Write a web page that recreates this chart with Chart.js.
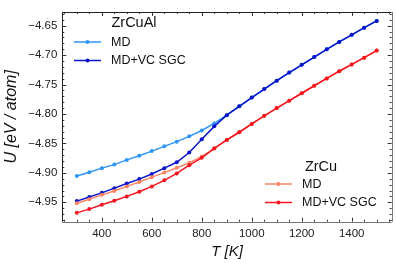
<!DOCTYPE html>
<html>
<head>
<meta charset="utf-8">
<script src="https://cdn.jsdelivr.net/npm/chart.js@4"></script>
<style>
  html, body { margin: 0; padding: 0; background: #fff; }
  #wrap { width: 397px; height: 263px; }
</style>
</head>
<body>
<div id="wrap"><canvas id="chart"></canvas></div>
<script>
var temps = [300, 350, 400, 450, 500, 550, 600, 650, 700, 750, 800, 850, 900,
  950, 1000, 1050, 1100, 1150, 1200, 1250, 1300, 1350, 1400, 1450, 1500];

var zrcualMD = [-4.9055, -4.899, -4.892, -4.886, -4.878, -4.871, -4.863, -4.855, -4.847, -4.838, -4.828, -4.816, -4.802,
  -4.787, -4.772, -4.7576, -4.7433, -4.7296, -4.7165, -4.7033, -4.690, -4.6775, -4.6655, -4.6533, -4.6418];
var zrcualSGC = [-4.948, -4.941, -4.934, -4.926, -4.918, -4.9106, -4.902, -4.892, -4.882, -4.8655, -4.843, -4.821, -4.802,
  -4.787, -4.772, -4.7576, -4.7433, -4.7296, -4.7165, -4.7033, -4.690, -4.6775, -4.6655, -4.6533, -4.6418];
var zrcuMD = [-4.9517, -4.945, -4.9374, -4.9308, -4.923, -4.9155, -4.9073, -4.8996, -4.8913, -4.883, -4.872, -4.859, -4.844,
  -4.831, -4.8168, -4.803, -4.790, -4.7773, -4.7647, -4.752, -4.7395, -4.7273, -4.7158, -4.7043, -4.6923];
var zrcuSGC = [-4.968, -4.9616, -4.9543, -4.9473, -4.940, -4.932, -4.923, -4.9127, -4.901, -4.887, -4.8744, -4.8584, -4.844,
  -4.831, -4.8168, -4.803, -4.790, -4.7773, -4.7647, -4.752, -4.7395, -4.7273, -4.7158, -4.7043, -4.6923];

var xTicks = [400, 600, 800, 1000, 1200, 1400];
var yTicks = [-4.95, -4.90, -4.85, -4.80, -4.75, -4.70, -4.65];

var lightBlue = '#2f95f5';
var darkBlue = '#0a14c8';
var salmon = '#fa8466';
var red = '#f5141e';

function pts(ys) {
  return temps.map(function (t, i) { return { x: t, y: ys[i] }; });
}

function series(label, ys, color, order) {
  return {
    label: label,
    data: pts(ys),
    borderColor: color,
    backgroundColor: color,
    borderWidth: 1.5,
    pointRadius: 2,
    pointBorderWidth: 0,
    pointHoverRadius: 2,
    order: order
  };
}

var fontFamily = '"Liberation Sans", Arial, sans-serif';

// inward ticks on all four sides, plus the frame and axis titles
var frame = {
  id: 'frame',
  afterDraw: function (chart) {
    var ctx = chart.ctx;
    var a = chart.chartArea;
    var xs = chart.scales.x;
    var ys = chart.scales.y;
    ctx.save();
    ctx.strokeStyle = '#333';
    ctx.lineWidth = 1;
    var v, px;
    for (v = 250; v <= 1550; v += 50) {
      px = Math.round(xs.getPixelForValue(v)) + 0.5;
      var len = (v % 200 === 0) ? 4 : 2;
      ctx.beginPath();
      ctx.moveTo(px, a.bottom); ctx.lineTo(px, a.bottom - len);
      ctx.moveTo(px, a.top); ctx.lineTo(px, a.top + len);
      ctx.stroke();
    }
    for (var k = -498; k <= -463; k++) {
      v = k / 100;
      px = Math.round(ys.getPixelForValue(v)) + 0.5;
      var l2 = (k % 5 === 0) ? 4 : 2;
      ctx.beginPath();
      ctx.moveTo(a.left, px); ctx.lineTo(a.left + l2, px);
      ctx.moveTo(a.right, px); ctx.lineTo(a.right - l2, px);
      ctx.stroke();
    }
    ctx.strokeStyle = '#222';
    ctx.beginPath();
    ctx.moveTo(Math.round(a.left) + 0.5, a.top);
    ctx.lineTo(Math.round(a.left) + 0.5, a.bottom);
    ctx.moveTo(a.left, Math.round(a.top) + 0.5);
    ctx.lineTo(a.right, Math.round(a.top) + 0.5);
    ctx.stroke();
    ctx.strokeStyle = '#777';
    ctx.beginPath();
    ctx.moveTo(a.left, Math.round(a.bottom) + 0.5);
    ctx.lineTo(a.right, Math.round(a.bottom) + 0.5);
    ctx.moveTo(Math.round(a.right) + 0.5, a.top);
    ctx.lineTo(Math.round(a.right) + 0.5, a.bottom);
    ctx.stroke();

    ctx.fillStyle = '#111';
    ctx.textAlign = 'center';
    ctx.textBaseline = 'middle';
    ctx.font = 'italic 15px ' + fontFamily;
    ctx.fillText('T [K]', (a.left + a.right) / 2, 252);
    ctx.translate(12, (a.top + a.bottom) / 2);
    ctx.rotate(-Math.PI / 2);
    ctx.font = 'italic 16px ' + fontFamily;
    ctx.fillText('U [eV / atom]', 0, 0);
    ctx.restore();
  }
};

// two titled legends, drawn from the datasets
var legends = {
  id: 'legends',
  afterDraw: function (chart) {
    var ctx = chart.ctx;
    var ds = chart.data.datasets;
    var groups = [
      { title: 'ZrCuAl', tx: 134, ty: 23, x0: 74, items: [ds[0], ds[1]], y0: 42 },
      { title: 'ZrCu', tx: 321, ty: 167, x0: 265, items: [ds[2], ds[3]], y0: 184 }
    ];
    ctx.save();
    groups.forEach(function (g) {
      ctx.fillStyle = '#111';
      ctx.font = '14.5px ' + fontFamily;
      ctx.textAlign = 'center';
      ctx.textBaseline = 'middle';
      ctx.fillText(g.title, g.tx, g.ty);
      g.items.forEach(function (d, i) {
        var y = g.y0 + i * 18.5;
        ctx.strokeStyle = d.borderColor;
        ctx.lineWidth = 1.5;
        ctx.beginPath();
        ctx.moveTo(g.x0, y); ctx.lineTo(g.x0 + 27, y);
        ctx.stroke();
        ctx.fillStyle = d.borderColor;
        ctx.beginPath();
        ctx.arc(g.x0 + 13.5, y, 2, 0, Math.PI * 2);
        ctx.fill();
        ctx.fillStyle = '#111';
        ctx.font = '12.5px ' + fontFamily;
        ctx.textAlign = 'left';
        ctx.fillText(d.label, g.x0 + 37, y + 0.5);
      });
    });
    ctx.restore();
  }
};

new Chart(document.getElementById('chart').getContext('2d'), {
  type: 'line',
  data: {
    datasets: [
      series('MD', zrcualMD, lightBlue, 4),
      series('MD+VC SGC', zrcualSGC, darkBlue, 3),
      series('MD', zrcuMD, salmon, 2),
      series('MD+VC SGC', zrcuSGC, red, 1)
    ]
  },
  options: {
    responsive: true,
    maintainAspectRatio: false,
    animation: false,
    events: [],
    layout: { padding: { top: 5, right: 5.3, left: 0, bottom: 0 } },
    plugins: { legend: { display: false }, tooltip: { enabled: false } },
    scales: {
      x: {
        type: 'linear',
        min: 242,
        max: 1560,
        grid: { display: false, drawTicks: false },
        border: { display: false },
        afterBuildTicks: function (s) { s.ticks = xTicks.map(function (v) { return { value: v }; }); },
        afterFit: function (s) { s.height = 41.3; },
        ticks: {
          padding: 5,
          color: '#222',
          font: { family: fontFamily, size: 11.5 },
          callback: function (v) { return String(v); }
        }
      },
      y: {
        type: 'linear',
        min: -4.983,
        max: -4.6265,
        grid: { display: false, drawTicks: false },
        border: { display: false },
        afterBuildTicks: function (s) { s.ticks = yTicks.map(function (v) { return { value: v }; }); },
        afterFit: function (s) { s.width = 62.3; },
        ticks: {
          padding: 5,
          color: '#222',
          font: { family: fontFamily, size: 11.5 },
          callback: function (v) { return '\u2212' + Math.abs(v).toFixed(2); }
        }
      }
    }
  },
  plugins: [frame, legends]
});
</script>
</body>
</html>
